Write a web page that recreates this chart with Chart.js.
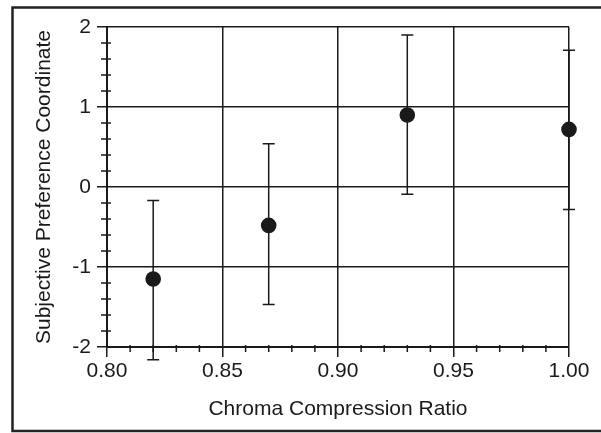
<!DOCTYPE html>
<html>
<head>
<meta charset="utf-8">
<style>
html,body{margin:0;padding:0;background:#fff;}
#wrap{width:601px;height:433px;position:relative;}
</style>
<script src="https://cdn.jsdelivr.net/npm/chart.js@4.4.1/dist/chart.umd.min.js"></script>
</head>
<body>
<div id="wrap"><canvas id="c" width="601" height="433"></canvas></div>
<script>
// Data
const xValues = [0.82, 0.87, 0.93, 1.00];
const yValues = [-1.15, -0.48, 0.90, 0.72];
const errUpper = [-0.17, 0.54, 1.90, 1.71];
const errLower = [-2.16, -1.47, -0.09, -0.28];
const xMajorTicks = [0.80, 0.85, 0.90, 0.95, 1.00];
const yMajorTicks = [-2, -1, 0, 1, 2];
const xTitle = 'Chroma Compression Ratio';
const yTitle = 'Subjective Preference Coordinate';

const ink = '#1a1a1a';
const FONT = '"Liberation Sans", Arial, Helvetica, sans-serif';

const points = xValues.map((x, i) => ({x: x, y: yValues[i]}));

const errorBarPlugin = {
  id: 'errorBars',
  beforeDatasetsDraw(chart) {
    const ctx = chart.ctx;
    const xs = chart.scales.x, ys = chart.scales.y;
    ctx.save();
    ctx.strokeStyle = ink;
    ctx.lineWidth = 1.5;
    xValues.forEach((x, i) => {
      const px = xs.getPixelForValue(x);
      const pt = ys.getPixelForValue(errUpper[i]);
      const pb = ys.getPixelForValue(errLower[i]);
      ctx.beginPath();
      ctx.moveTo(px, pt); ctx.lineTo(px, pb);
      ctx.moveTo(px - 6, pt); ctx.lineTo(px + 6, pt);
      ctx.moveTo(px - 6, pb); ctx.lineTo(px + 6, pb);
      ctx.stroke();
    });
    ctx.restore();
  }
};

const minorTickPlugin = {
  id: 'minorTicks',
  afterDraw(chart) {
    const ctx = chart.ctx;
    const xs = chart.scales.x, ys = chart.scales.y;
    const area = chart.chartArea;
    ctx.save();
    ctx.strokeStyle = ink;
    ctx.lineWidth = 1.5;
    ctx.beginPath();
    for (let k = 81; k < 100; k++) {
      if (k % 5 === 0) continue;
      const px = xs.getPixelForValue(k / 100);
      ctx.moveTo(px, area.bottom - 2);
      ctx.lineTo(px, area.bottom + 5);
    }
    for (let k = -10; k <= 10; k++) {
      if (k % 5 === 0) continue;
      const py = ys.getPixelForValue(k / 5);
      ctx.moveTo(area.left - 6, py);
      ctx.lineTo(area.left + 4, py);
    }
    ctx.stroke();
    ctx.lineWidth = 2.5;
    ctx.strokeStyle = '#222';
    ctx.beginPath();
    ctx.moveTo(640, 7.5);
    ctx.lineTo(12.5, 7.5);
    ctx.lineTo(12.5, 431);
    ctx.lineTo(640, 431);
    ctx.stroke();
    ctx.restore();
  }
};

new Chart(document.getElementById('c'), {
  type: 'scatter',
  data: {
    datasets: [{
      data: points,
      backgroundColor: ink,
      borderColor: ink,
      pointRadius: 7.8,
      pointHoverRadius: 7.8,
      borderWidth: 0,
      clip: false
    }]
  },
  options: {
    responsive: false,
    animation: false,
    events: [],
    layout: {padding: {left: 0, top: 27, right: 32, bottom: 0}},
    plugins: {legend: {display: false}, tooltip: {enabled: false}},
    scales: {
      x: {
        type: 'linear',
        min: 0.80, max: 1.00,
        afterBuildTicks(scale) { scale.ticks = xMajorTicks.map(v => ({value: v})); },
        afterFit(scale) { scale.height = 86; },
        ticks: {
          callback: v => Number(v).toFixed(2),
          color: ink,
          font: {family: FONT, size: 21},
          padding: 2,
          maxRotation: 0
        },
        grid: {color: ink, lineWidth: 1.5, tickLength: 10, tickColor: ink, tickWidth: 1.5},
        border: {display: true, color: ink, width: 2},
        title: {display: true, text: xTitle, color: ink, font: {family: FONT, size: 21}, padding: {top: 0, bottom: 11}}
      },
      y: {
        type: 'linear',
        min: -2, max: 2,
        afterBuildTicks(scale) { scale.ticks = yMajorTicks.map(v => ({value: v})); },
        afterFit(scale) { scale.width = 107; },
        ticks: {
          callback: v => String(v),
          color: ink,
          font: {family: FONT, size: 21},
          padding: 6
        },
        grid: {color: ink, lineWidth: 1.5, tickLength: 10, tickColor: ink, tickWidth: 1.5},
        border: {display: true, color: ink, width: 2},
        title: {display: true, text: yTitle, color: ink, font: {family: FONT, size: 21}, padding: {top: 32, bottom: 0}}
      }
    }
  },
  plugins: [errorBarPlugin, minorTickPlugin]
});
</script>
</body>
</html>
